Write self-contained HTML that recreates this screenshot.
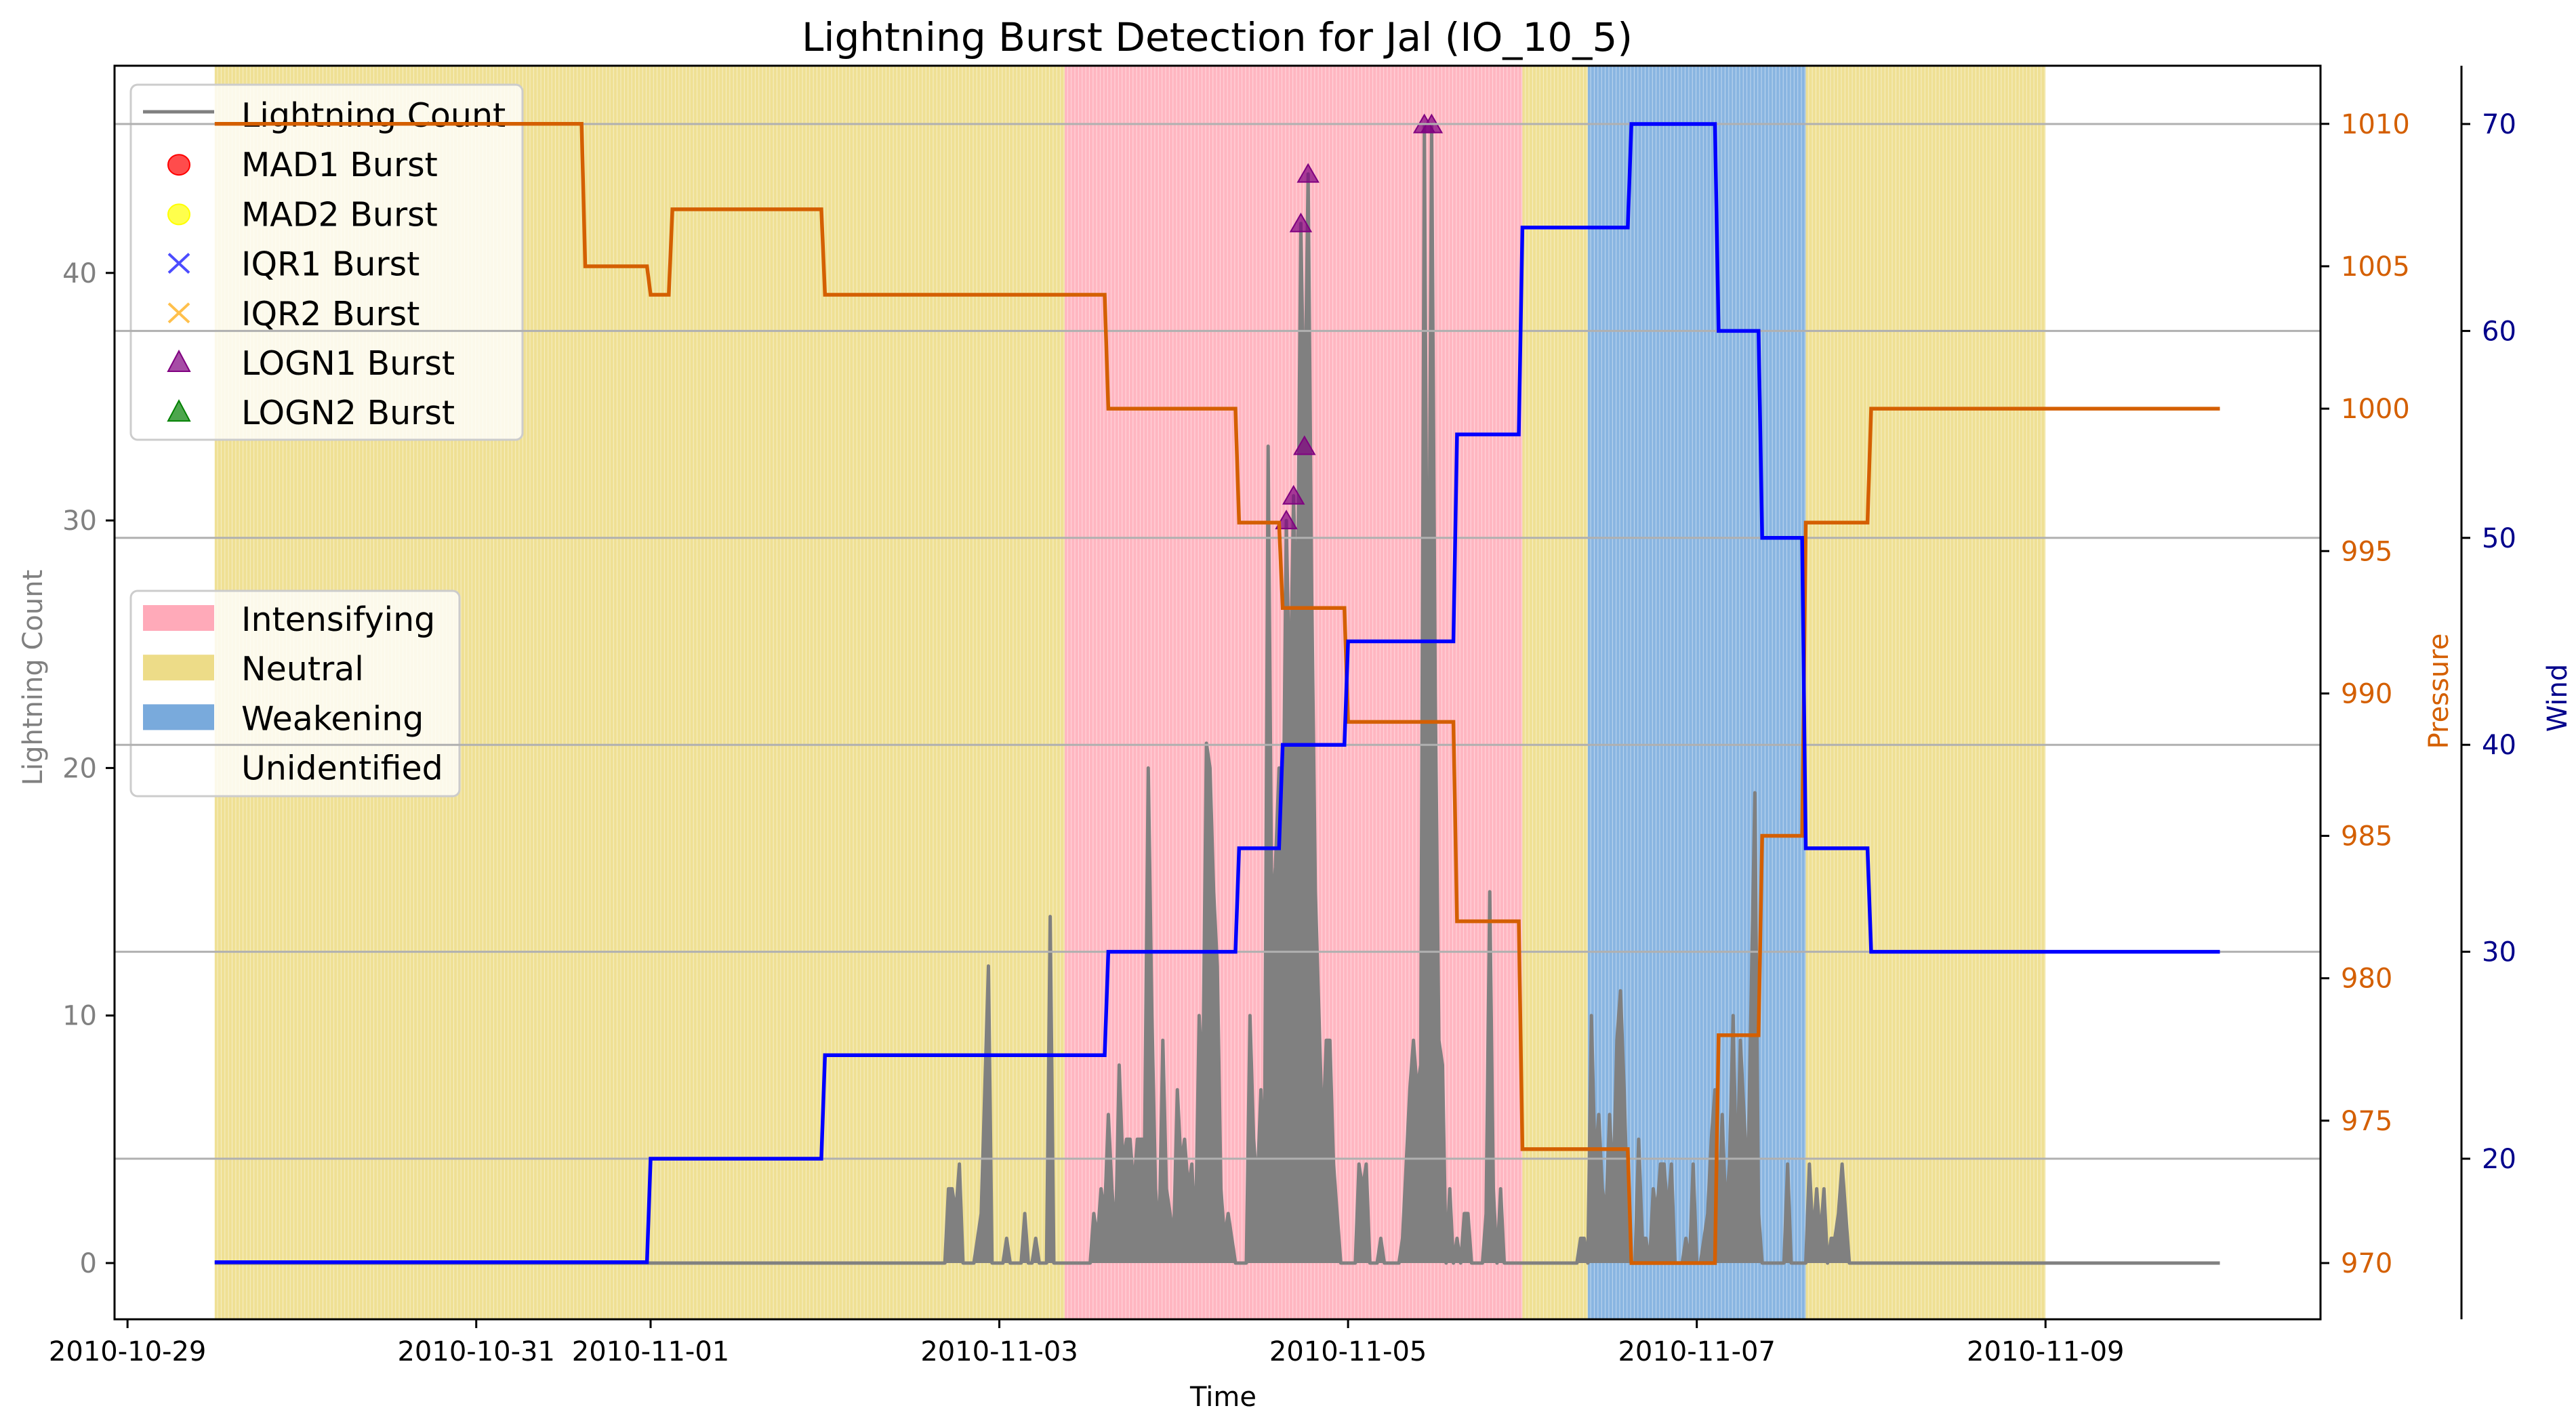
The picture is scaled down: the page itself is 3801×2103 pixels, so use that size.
<!DOCTYPE html>
<html><head><meta charset="utf-8"><title>Lightning Burst Detection for Jal (IO_10_5)</title>
<style>html,body{margin:0;padding:0;background:#fff}svg{display:block}text{font-family:"DejaVu Sans","Liberation Sans",sans-serif}</style>
</head><body>
<svg id="chart" xmlns="http://www.w3.org/2000/svg" width="3801" height="2103" viewBox="0 0 3801 2103">
<defs>
<pattern id="stripe" patternUnits="userSpaceOnUse" width="5.36" height="10"><rect x="4.3" y="0" width="1.06" height="10" fill="#ffffff" fill-opacity="0.45"/></pattern>
</defs>
<g id="bands"></g>
<g id="series"></g>
<g id="legends"></g>
<g id="grid"></g>
<g id="lines"></g>
<g id="axes"></g>
</svg>
<script>
// ---- data (hours since 2010-10-29 00:00) ----
const bandStarts = [12, 129, 192, 201, 231];
const bandEnds = [129, 192, 201, 231, 264];
const bandStages = ["Neutral", "Intensifying", "Neutral", "Weakening", "Neutral"];
const pressureTimes = [12, 63, 72, 75, 96, 135, 153, 159, 168, 183, 192, 207, 219, 225, 231, 240];
const pressureValues = [1010, 1005, 1004, 1007, 1004, 1000, 996, 993, 989, 982, 974, 970, 978, 985, 996, 1000];
const windTimes = [12, 72, 96, 135, 153, 159, 168, 183, 192, 207, 219, 225, 231, 240];
const windValues = [15, 20, 25, 30, 35, 40, 45, 55, 65, 70, 60, 50, 35, 30];
const seriesEnd = 288;
const lightningTimes = [113,113.5,114,114.5,117,117.5,118,118.5,121,123.5,125,127,
133,133.5,134,134.5,135,135.5,136,136.5,137,137.5,138,138.5,139,139.5,140,140.5,141,141.5,142,142.5,143,143.5,144,144.5,145,145.5,146,146.5,147,147.5,148,148.5,149,149.5,150,150.5,151,151.5,152,
154.5,155,155.5,156,156.5,157,157.5,158,158.5,159,159.5,160,160.5,161,161.5,162,162.5,163,163.5,164,164.5,165,165.5,166,166.5,
169.5,170,170.5,172.5,175.5,176,176.5,177,177.5,178,178.5,179,179.5,180,180.5,181,182,183,184,184.5,187,187.5,188,189,
200,200.5,201.5,202,202.5,203,203.5,204,204.5,205,205.5,206,206.5,208,208.5,209,210,210.5,211,211.5,212,212.5,214.5,215.5,217,217.5,218,218.5,219,219.5,220,220.5,221,221.5,222,222.5,223,223.5,224,224.5,228.5,231.5,232,232.5,233,233.5,234.5,235,235.5,236,236.5];
const lightningCounts = [3,3,2,4,1,2,7,12,1,2,1,14,
2,1,3,2,6,3,1,8,4,5,5,3,5,5,5,20,10,3,1,9,3,2,1,7,4,5,3,4,1,10,7,21,20,15,12,3,1,2,1,
10,5,3,7,4,33,14,16,20,15,30,22,31,25,42,33,44,27,15,10,5,9,9,4,2,
4,3,4,1,1,4,7,9,7,8,46,19,46,23,9,8,3,1,2,2,2,15,3,3,
1,1,10,4,6,3,2,6,3,9,11,7,2,5,1,1,3,2,4,4,2,4,1,4,1,2,5,7,2,6,2,4,10,3,9,6,3,11,19,2,4,4,1,3,1,3,1,1,2,4,2];
const burstTimes = [159.5, 160.5, 161.5, 162, 162.5, 178.5, 179.5];
const burstCounts = [30, 31, 42, 33, 44, 46, 46];
const xTickHours = [0, 48, 72, 120, 168, 216, 264];
const xTickLabels = ["2010-10-29","2010-10-31","2010-11-01","2010-11-03","2010-11-05","2010-11-07","2010-11-09"];
const countTicks = [0, 10, 20, 30, 40];
const pressureTicks = [970, 975, 980, 985, 990, 995, 1000, 1005, 1010];
const windTicks = [20, 30, 40, 50, 60, 70];

// ---- axes ----
const L = 169, R = 3424, T = 97, B = 1947, W3 = 3632;
const X = h => 960 + (h - 72) * 10.72;
const Yc = c => 1864 - c * 36.53;
const Yp = p => 1864 - (p - 970) * 42.03;
const Yw = w => 183 + (70 - w) * 30.54;
const NS = "http://www.w3.org/2000/svg";
function mk(tag, attrs, parent, txt) {
  const e = document.createElementNS(NS, tag);
  for (const k in attrs) e.setAttribute(k, attrs[k]);
  if (txt !== undefined) e.textContent = txt;
  parent.appendChild(e); return e;
}
const gB = document.getElementById('bands'), gS = document.getElementById('series'),
  gLg = document.getElementById('legends'), gG = document.getElementById('grid'),
  gL = document.getElementById('lines'), gA = document.getElementById('axes');
const stageColor = {Intensifying: "#ffb6c1", Neutral: "#efe094", Weakening: "#89b5e1"};

// bands
for (let i = 0; i < bandStarts.length; i++) {
  const x0 = X(bandStarts[i]), x1 = X(bandEnds[i]);
  const r = mk('rect', {x: x0, y: T, width: x1 - x0, height: B - T, fill: stageColor[bandStages[i]]}, gB);
  
  
  mk('rect', {x: x0, y: T, width: x1 - x0, height: B - T, fill: 'url(#stripe)'}, gB);
}

// lightning line on half-hour grid (dense line rendered as filled trace)
const grid = {};
for (let i = 0; i < lightningTimes.length; i++) grid[Math.round(lightningTimes[i] * 2)] = lightningCounts[i];
let pts = [];
for (let k = 24; k <= seriesEnd * 2; k++) pts.push(X(k / 2).toFixed(1) + ',' + Yc(grid[k] || 0).toFixed(1));
const lf = mk('polygon', {points: X(12) + ',' + Yc(0) + ' ' + pts.join(' ') + ' ' + X(seriesEnd) + ',' + Yc(0), fill: '#808080', stroke: 'none'}, gS);


const lp = mk('polyline', {points: pts.join(' '), fill: 'none', stroke: '#808080', 'stroke-width': 5, 'stroke-linejoin': 'round'}, gS);



for (let i = 0; i < burstTimes.length; i++) {
  const cx = X(burstTimes[i]), cy = Yc(burstCounts[i]);
  const m = mk('polygon', {points: `${cx},${cy-14} ${cx-15},${cy+12} ${cx+15},${cy+12}`, fill: '#800080', 'fill-opacity': 0.7, stroke: '#800080', 'stroke-width': 2}, gS);
  
  
}

// legends
function legendBox(x, y, w, h, name) {
  const r = mk('rect', {x, y, width: w, height: h, rx: 10, fill: '#ffffff', 'fill-opacity': 0.8, stroke: '#cccccc', 'stroke-width': 3}, gLg);
  
  
}
legendBox(193, 125, 578, 524, 'burst-legend');
const l1 = [["line","#808080","Lightning Count"],["circle","#ff0000","MAD1 Burst"],["circle","#ffff00","MAD2 Burst"],["x","#0000ff","IQR1 Burst"],["x","#ffa500","IQR2 Burst"],["tri","#800080","LOGN1 Burst"],["tri","#008000","LOGN2 Burst"]];
l1.forEach((e, i) => {
  const cy = 165 + i * 73.2, cx = 264;
  if (e[0] === 'line') mk('line', {x1: 211, x2: 316, y1: cy, y2: cy, stroke: e[1], 'stroke-width': 5}, gLg);
  if (e[0] === 'circle') mk('ellipse', {cx, cy: cy + 5, rx: 16, ry: 15, fill: e[1], 'fill-opacity': 0.7, stroke: e[1], 'stroke-width': 2}, gLg);
  if (e[0] === 'x') mk('path', {d: `M${cx-15},${cy-10}L${cx+15},${cy+18}M${cx+15},${cy-10}L${cx-15},${cy+18}`, stroke: e[1], 'stroke-opacity': 0.7, 'stroke-width': 4}, gLg);
  if (e[0] === 'tri') mk('polygon', {points: `${cx},${cy-13} ${cx-16},${cy+17} ${cx+16},${cy+17}`, fill: e[1], 'fill-opacity': 0.7, stroke: e[1], 'stroke-width': 2}, gLg);
  const t = mk('text', {x: 356, y: cy + 22, 'font-size': 49, fill: '#000'}, gLg, e[2]);
  
  
});
legendBox(193, 872, 485, 303, 'stage-legend');
const l2 = [["#ffaab9","Intensifying"],["#eddc88","Neutral"],["#79aadc","Weakening"],[null,"Unidentified"]];
l2.forEach((e, i) => {
  const cy = 912 + i * 73.2;
  if (e[0]) mk('rect', {x: 211, y: cy - 19, width: 105, height: 38, fill: e[0]}, gLg);
  const t = mk('text', {x: 356, y: cy + 19, 'font-size': 49, fill: '#000'}, gLg, e[1]);
  
  
});

// grid lines at wind ticks
windTicks.forEach(w => mk('line', {x1: L, x2: R, y1: Yw(w), y2: Yw(w), stroke: '#b0b0b0', 'stroke-width': 3}, gG));

// step lines
function stepPts(times, vals, Y) {
  let p = [X(times[0]) + ',' + Y(vals[0])];
  for (let i = 1; i < times.length; i++) {
    p.push(X(times[i] - 0.5) + ',' + Y(vals[i - 1]));
    p.push(X(times[i]) + ',' + Y(vals[i]));
  }
  p.push(X(seriesEnd) + ',' + Y(vals[vals.length - 1]));
  return p.join(' ');
}
const pl = mk('polyline', {points: stepPts(pressureTimes, pressureValues, Yp), fill: 'none', stroke: '#d45f00', 'stroke-width': 5.5}, gL);


const wl = mk('polyline', {points: stepPts(windTimes, windValues, Yw), fill: 'none', stroke: '#0000ff', 'stroke-width': 5.5}, gL);



// axes frame
mk('rect', {x: L, y: T, width: R - L, height: B - T, fill: 'none', stroke: '#000', 'stroke-width': 3}, gA);
mk('line', {x1: W3, x2: W3, y1: T, y2: B, stroke: '#000', 'stroke-width': 3}, gA);
xTickHours.forEach((h, i) => {
  mk('line', {x1: X(h), x2: X(h), y1: B, y2: B + 13, stroke: '#000', 'stroke-width': 3}, gA);
  const t = mk('text', {x: X(h), y: 2008, 'font-size': 40, 'text-anchor': 'middle', fill: '#000'}, gA, xTickLabels[i]);
  
  
});
countTicks.forEach(c => {
  mk('line', {x1: L - 13, x2: L, y1: Yc(c), y2: Yc(c), stroke: '#000', 'stroke-width': 3}, gA);
  const t = mk('text', {x: L - 26, y: Yc(c) + 14, 'font-size': 40, 'text-anchor': 'end', fill: '#808080'}, gA, String(c));
  
  
});
pressureTicks.forEach(p => {
  mk('line', {x1: R, x2: R + 13, y1: Yp(p), y2: Yp(p), stroke: '#000', 'stroke-width': 3}, gA);
  const t = mk('text', {x: R + 30, y: Yp(p) + 14, 'font-size': 40, fill: '#d45f00'}, gA, String(p));
  
  
});
windTicks.forEach(w => {
  mk('line', {x1: W3, x2: W3 + 13, y1: Yw(w), y2: Yw(w), stroke: '#000', 'stroke-width': 3}, gA);
  const t = mk('text', {x: W3 + 30, y: Yw(w) + 14, 'font-size': 40, fill: '#00008b'}, gA, String(w));
  
  
});
</script>
<svg style="position:absolute;left:0;top:0" width="3801" height="2103" viewBox="0 0 3801 2103" xmlns="http://www.w3.org/2000/svg">
<text x="1796" y="75" font-size="58" text-anchor="middle" textLength="1226" lengthAdjust="spacingAndGlyphs" font-family="DejaVu Sans, Liberation Sans, sans-serif">Lightning Burst Detection for Jal (IO_10_5)</text>
<text x="1805" y="2075" font-size="40" text-anchor="middle" font-family="DejaVu Sans, Liberation Sans, sans-serif">Time</text>
<text transform="translate(62,1000) rotate(-90)" font-size="40" text-anchor="middle" fill="#808080" font-family="DejaVu Sans, Liberation Sans, sans-serif">Lightning Count</text>
<text transform="translate(3612,1020) rotate(-90)" font-size="40" text-anchor="middle" fill="#d45f00" font-family="DejaVu Sans, Liberation Sans, sans-serif">Pressure</text>
<text transform="translate(3787,1030) rotate(-90)" font-size="40" text-anchor="middle" fill="#00008b" font-family="DejaVu Sans, Liberation Sans, sans-serif">Wind</text>
</svg>
</body></html>
